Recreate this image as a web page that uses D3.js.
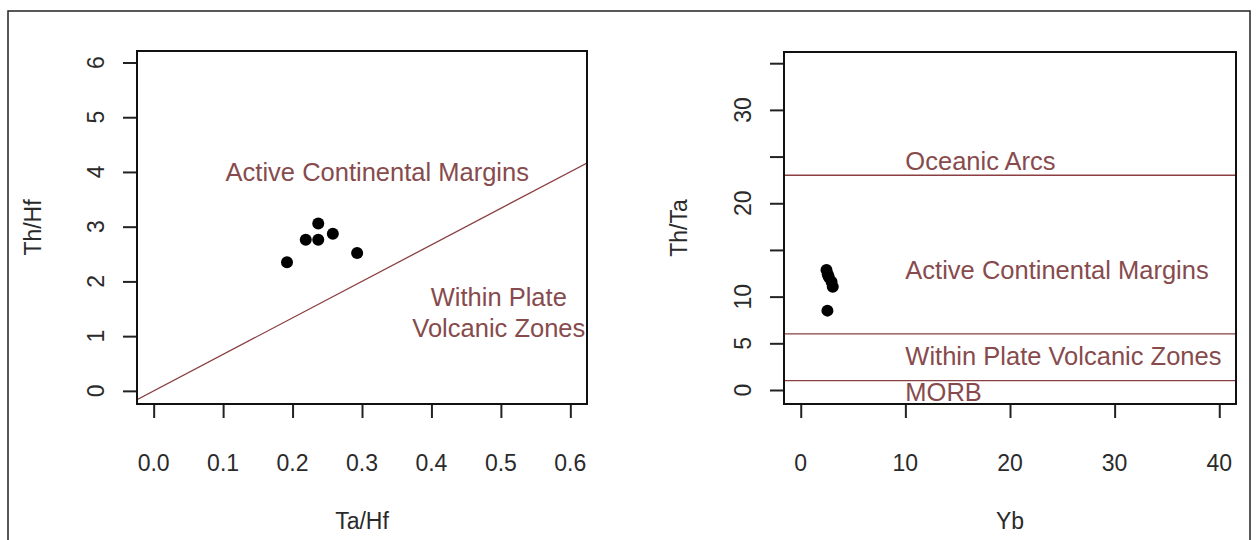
<!DOCTYPE html>
<html>
<head>
<meta charset="utf-8">
<script src="https://cdn.jsdelivr.net/npm/d3@7"></script>
<style>
html,body{margin:0;padding:0;background:#fff;}
svg{display:block;font-family:"Liberation Sans",Arial,sans-serif;}
</style>
</head>
<body>
<svg id="chart" width="1258" height="540"></svg>
<script>
// ---- data ----
// Left panel: Th/Hf vs Ta/Hf
const taHf = [0.237, 0.219, 0.237, 0.258, 0.293, 0.192];
const thHf = [3.06, 2.76, 2.76, 2.87, 2.52, 2.35];
// Right panel: Th/Ta vs Yb
const yb   = [2.46, 2.58, 2.68, 2.94, 3.06, 2.55];
const thTa = [12.86, 12.4, 12.1, 11.6, 11.07, 8.5];

const leftXTicks = [0, 0.1, 0.2, 0.3, 0.4, 0.5, 0.6];
const leftXTickLabels = ["0.0", "0.1", "0.2", "0.3", "0.4", "0.5", "0.6"];
const leftYTicks = [0, 1, 2, 3, 4, 5, 6];
const leftYTickLabels = ["0", "1", "2", "3", "4", "5", "6"];
const rightXTicks = [0, 10, 20, 30, 40];
const rightXTickLabels = ["0", "10", "20", "30", "40"];
const rightYTicks = [0, 5, 10, 15, 20, 25, 30, 35];
const rightYTickLabels = ["0", "5", "10", "", "20", "", "30", ""];

// boundary line in left panel (abline: intercept, slope)
const leftBoundary = {intercept: 0, slope: 6.67};
// horizontal boundaries in right panel (Th/Ta values)
const rightBoundaries = [23, 6, 1];

const leftLabels = [
  {text: "Active Continental Margins", x: 0.322, y: 4.0},
  {text: "Within Plate", x: 0.497, y: 1.72},
  {text: "Volcanic Zones", x: 0.497, y: 1.14}
];
const rightLabels = [
  {text: "Oceanic Arcs", x: 10, y: 24.5},
  {text: "Active Continental Margins", x: 10, y: 12.9},
  {text: "Within Plate Volcanic Zones", x: 10, y: 3.6},
  {text: "MORB", x: 10, y: -0.25}
];

// ---- drawing ----
const svg = d3.select("#chart");
const textCol = "#874b4d";
const lineCol = "#8b3f42";
const tickFont = 23, annFont = 25.5, titleFont = 23;

// outer frame
svg.append("rect").attr("x", 8).attr("y", 11).attr("width", 1242).attr("height", 560)
  .attr("fill", "none").attr("stroke", "#222").attr("stroke-width", 1.5);

function panel(cfg) {
  const g = svg.append("g");
  const x = d3.scaleLinear().domain(cfg.xDom).range([cfg.x0, cfg.x1]);
  const y = d3.scaleLinear().domain(cfg.yDom).range([cfg.y1, cfg.y0]);
  const clipId = "clip" + cfg.id;
  svg.append("clipPath").attr("id", clipId).append("rect")
    .attr("x", cfg.x0).attr("y", cfg.y0).attr("width", cfg.x1 - cfg.x0).attr("height", cfg.y1 - cfg.y0);

  // axis ticks
  const xa = d3.axisBottom(x).tickValues(cfg.xTicks).tickSize(14).tickFormat("");
  const gx = g.append("g").attr("transform", `translate(0,${cfg.y1})`).call(xa);
  gx.select(".domain").remove();
  gx.selectAll("line").attr("stroke", "#222").attr("stroke-width", 2);
  const ya = d3.axisLeft(y).tickValues(cfg.yTicks).tickSize(14).tickFormat("");
  const gy = g.append("g").attr("transform", `translate(${cfg.x0},0)`).call(ya);
  gy.select(".domain").remove();
  gy.selectAll("line").attr("stroke", "#222").attr("stroke-width", 2);

  // tick labels
  g.selectAll(".xl").data(cfg.xTicks).join("text")
    .attr("x", d => x(d)).attr("y", cfg.xLabY)
    .attr("text-anchor", "middle").attr("dominant-baseline", "central")
    .attr("font-size", tickFont).attr("fill", "#2a2a2a")
    .text((d, i) => cfg.xTickLabels[i]);
  g.selectAll(".yl").data(cfg.yTicks).join("text")
    .attr("transform", d => `translate(${cfg.yLabX},${y(d)}) rotate(-90)`)
    .attr("text-anchor", "middle").attr("dominant-baseline", "central")
    .attr("font-size", tickFont).attr("fill", "#2a2a2a")
    .text((d, i) => cfg.yTickLabels[i]);

  // axis titles
  g.append("text").attr("x", (cfg.x0 + cfg.x1) / 2).attr("y", cfg.xTitleY)
    .attr("text-anchor", "middle").attr("dominant-baseline", "central")
    .attr("font-size", titleFont).attr("fill", "#2a2a2a").text(cfg.xTitle);
  g.append("text").attr("transform", `translate(${cfg.yTitleX},${(cfg.y0 + cfg.y1) / 2}) rotate(-90)`)
    .attr("text-anchor", "middle").attr("dominant-baseline", "central")
    .attr("font-size", titleFont).attr("fill", "#2a2a2a").text(cfg.yTitle);

  return {g, x, y, clipId};
}

// Left panel
const L = panel({
  id: "L", x0: 137, x1: 587, y0: 51, y1: 404,
  xDom: [-0.024, 0.624], yDom: [-0.24, 6.21],
  xTicks: leftXTicks, xTickLabels: leftXTickLabels,
  yTicks: leftYTicks, yTickLabels: leftYTickLabels,
  xLabY: 463, yLabX: 96, xTitle: "Ta/Hf", xTitleY: 521, yTitle: "Th/Hf", yTitleX: 33
});
{
  const xd = L.x.domain();
  L.g.append("line").attr("clip-path", `url(#${L.clipId})`)
    .attr("x1", L.x(xd[0])).attr("y1", L.y(leftBoundary.intercept + leftBoundary.slope * xd[0]))
    .attr("x2", L.x(xd[1])).attr("y2", L.y(leftBoundary.intercept + leftBoundary.slope * xd[1]))
    .attr("stroke", lineCol).attr("stroke-width", 1.3);
  L.g.selectAll(".ann").data(leftLabels).join("text")
    .attr("x", d => L.x(d.x)).attr("y", d => L.y(d.y))
    .attr("text-anchor", "middle").attr("dominant-baseline", "central")
    .attr("font-size", annFont).attr("fill", textCol).text(d => d.text);
  L.g.selectAll(".pt").data(taHf).join("circle")
    .attr("cx", d => L.x(d)).attr("cy", (d, i) => L.y(thHf[i])).attr("r", 6).attr("fill", "#000");
}

// Right panel
const R = panel({
  id: "R", x0: 784, x1: 1236, y0: 52, y1: 404,
  xDom: [-1.6, 41.6], yDom: [-1.5, 36.2],
  xTicks: rightXTicks, xTickLabels: rightXTickLabels,
  yTicks: rightYTicks, yTickLabels: rightYTickLabels,
  xLabY: 463, yLabX: 743, xTitle: "Yb", xTitleY: 521, yTitle: "Th/Ta", yTitleX: 679
});
{
  R.g.selectAll(".hl").data(rightBoundaries).join("line")
    .attr("x1", R.x.range()[0]).attr("x2", R.x.range()[1])
    .attr("y1", d => R.y(d)).attr("y2", d => R.y(d))
    .attr("stroke", lineCol).attr("stroke-width", 1.3);
  R.g.selectAll(".ann").data(rightLabels).join("text")
    .attr("x", d => R.x(d.x)).attr("y", d => R.y(d.y))
    .attr("text-anchor", "start").attr("dominant-baseline", "central")
    .attr("font-size", annFont).attr("fill", textCol).text(d => d.text);
  R.g.selectAll(".pt").data(yb).join("circle")
    .attr("cx", d => R.x(d)).attr("cy", (d, i) => R.y(thTa[i])).attr("r", 6).attr("fill", "#000");
}

// plot boxes (drawn last so they sit on top)
[L, R].forEach(P => {
  const xr = P.x.range(), yr = P.y.range();
  svg.append("rect").attr("x", xr[0]).attr("y", yr[1]).attr("width", xr[1] - xr[0]).attr("height", yr[0] - yr[1])
    .attr("fill", "none").attr("stroke", "#111").attr("stroke-width", 2);
});
</script>
</body>
</html>
